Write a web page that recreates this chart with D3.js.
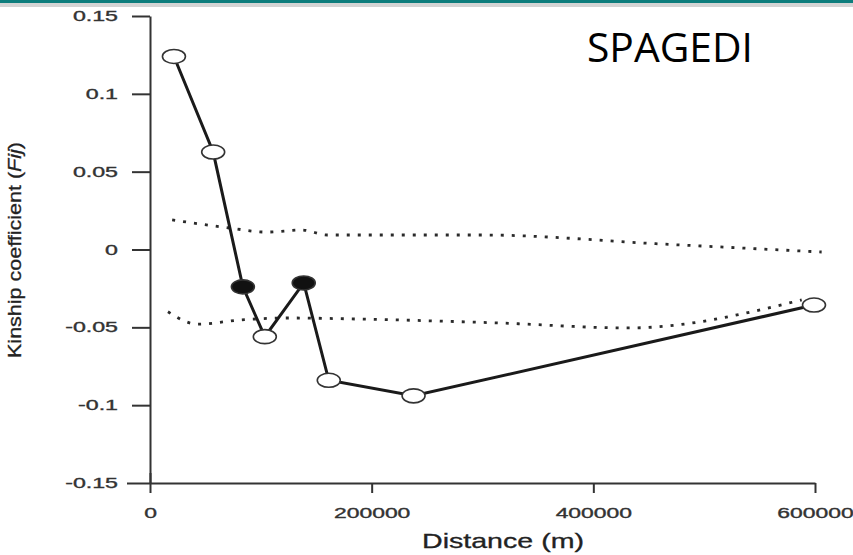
<!DOCTYPE html>
<html>
<head>
<meta charset="utf-8">
<script src="https://cdn.jsdelivr.net/npm/d3@7"></script>
<style>
  body { margin: 0; background: #fff; }
  svg { display: block; }
</style>
</head>
<body>
<script>
// observed kinship per distance class
const distances = [21600, 57000, 83800, 103600, 138700, 161300, 237800, 599100];
const kinship = [0.124, 0.0626, -0.024, -0.056, -0.0215, -0.084, -0.094, -0.0357];
const significant = [false, false, true, false, true, false, false, false];

// 95% envelope (dotted)
const upperDist = [20000, 72000, 105000, 137000, 160000, 300000, 462000, 606000];
const upperVal = [0.019, 0.0138, 0.0112, 0.0125, 0.0093, 0.0093, 0.0035, -0.0016];
const lowerDist = [16200, 43200, 81000, 126000, 189000, 315000, 432000, 588000];
const lowerVal = [-0.040, -0.048, -0.0453, -0.044, -0.0447, -0.0472, -0.0504, -0.0324];

const xTicks = [0, 200000, 400000, 600000];
const yTicks = [-0.15, -0.1, -0.05, 0, 0.05, 0.1, 0.15];

const width = 853, height = 555;
const ink = "#333";

const svg = d3.select("body").append("svg")
    .attr("width", width)
    .attr("height", height);

// slide header strip
svg.append("rect").attr("x", 0).attr("y", 0).attr("width", width).attr("height", 3).attr("fill", "#0d7d7c");
svg.append("rect").attr("x", 0).attr("y", 3).attr("width", width).attr("height", 4).attr("fill", "#d4d4d4");

const x = d3.scaleLinear().domain([0, 600000]).range([150, 815]);
const y = d3.scaleLinear().domain([-0.15, 0.15]).range([483, 16]);

// y axis
const yAxis = svg.append("g")
    .attr("transform", "translate(150,0)")
    .call(d3.axisLeft(y).tickValues(yTicks).tickSize(18).tickSizeOuter(0)
        .tickFormat(d => d === 0 ? "0" : String(d)));

// x axis
const xAxis = svg.append("g")
    .attr("transform", "translate(0,483)")
    .call(d3.axisBottom(x).tickValues(xTicks).tickSize(10).tickSizeOuter(0).tickPadding(15)
        .tickFormat(d => String(d)));

[yAxis, xAxis].forEach(g => {
    g.select(".domain").attr("stroke", ink).attr("stroke-width", 2);
    g.selectAll(".tick line").attr("stroke", ink).attr("stroke-width", 2);
    g.selectAll(".tick text")
        .attr("fill", "#333")
        .attr("stroke", "#333")
        .attr("stroke-width", 0.35)
        .style("font-family", "'Liberation Sans', Arial, sans-serif")
        .style("font-size", "14.5px");
});
yAxis.selectAll(".tick text").attr("x", -20).attr("transform", "scale(1.6,1)");
xAxis.selectAll(".tick text").attr("transform", "scale(1.58,1)");

// extend lines so the axes cross like the original
yAxis.select(".tick:first-of-type line").attr("x2", -23);
xAxis.select(".tick:first-of-type line").attr("y1", -10).attr("y2", 10);

// axis titles
svg.append("text")
    .attr("transform", "translate(503,548) scale(1.43,1)")
    .attr("text-anchor", "middle")
    .attr("fill", "#222")
    .attr("stroke", "#222")
    .attr("stroke-width", 0.3)
    .style("font-family", "'Liberation Sans', Arial, sans-serif")
    .style("font-size", "20px")
    .text("Distance (m)");

const ylab = svg.append("text")
    .attr("transform", "translate(21,250) rotate(-90)")
    .attr("text-anchor", "middle")
    .attr("textLength", 216)
    .attr("lengthAdjust", "spacingAndGlyphs")
    .attr("fill", "#222")
    .attr("stroke", "#222")
    .attr("stroke-width", 0.3)
    .style("font-family", "'Liberation Sans', Arial, sans-serif")
    .style("font-size", "19px");
ylab.append("tspan").text("Kinship coefficient (");
ylab.append("tspan").style("font-style", "italic").text("Fij");
ylab.append("tspan").text(")");

// envelope lines
const envLine = d3.line().x(d => x(d[0])).y(d => y(d[1])).curve(d3.curveMonotoneX);
[[upperDist, upperVal], [lowerDist, lowerVal]].forEach(([ds, vs]) => {
    svg.append("path")
        .attr("d", envLine(ds.map((d, i) => [d, vs[i]])))
        .attr("fill", "none")
        .attr("stroke", "#2a2a2a")
        .attr("stroke-width", 2.8)
        .attr("stroke-dasharray", "3,8");
});

// observed line
const pts = distances.map((d, i) => ({ d, k: kinship[i], sig: significant[i] }));
svg.append("path")
    .attr("d", d3.line().x(p => x(p.d)).y(p => y(p.k))(pts))
    .attr("fill", "none")
    .attr("stroke", "#1a1a1a")
    .attr("stroke-width", 3);

svg.selectAll("ellipse")
    .data(pts)
    .join("ellipse")
    .attr("cx", p => x(p.d))
    .attr("cy", p => y(p.k))
    .attr("rx", 11.5)
    .attr("ry", 7)
    .attr("fill", p => p.sig ? "#111" : "#fff")
    .attr("stroke", "#333")
    .attr("stroke-width", 1.6);

// label in corner
svg.append("text")
    .attr("x", 587)
    .attr("y", 62)
    .attr("textLength", 166)
    .attr("lengthAdjust", "spacingAndGlyphs")
    .attr("fill", "#000")
    .style("font-family", "'Open Sans', 'Noto Sans', sans-serif")
    .style("font-size", "40px")
    .text("SPAGEDI");
</script>
</body>
</html>
